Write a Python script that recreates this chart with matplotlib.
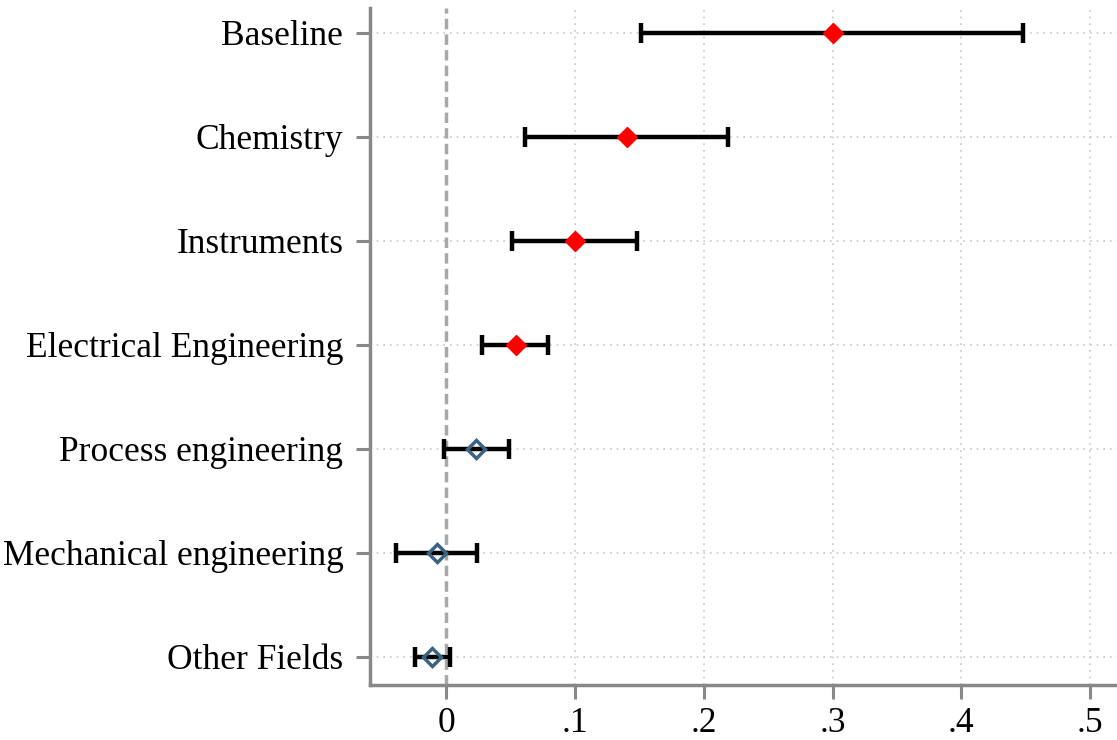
import matplotlib.pyplot as plt
import numpy as np

labels = ["Baseline", "Chemistry", "Instruments", "Electrical Engineering",
          "Process engineering", "Mechanical engineering", "Other Fields"]
coef = [0.300, 0.140, 0.100, 0.054, 0.023, -0.007, -0.011]
ci_low = [0.151, 0.061, 0.051, 0.028, -0.002, -0.039, -0.024]
ci_high = [0.448, 0.219, 0.148, 0.079, 0.049, 0.024, 0.003]
significant = [True, True, True, True, False, False, False]
xticks = [0, 0.1, 0.2, 0.3, 0.4, 0.5]
xticklabels = ["0", ".1", ".2", ".3", ".4", ".5"]

plt.rcParams['font.family'] = ['Liberation Serif', 'DejaVu Serif']

fig = plt.figure(figsize=(11.17, 7.4), dpi=100)
ax = fig.add_axes([0.331, 0.0743, 0.669, 0.915])

ypos = np.arange(len(labels))[::-1] + 1

# grid
for xt in xticks[1:]:
    ax.axvline(xt, color='#c8c8c8', lw=1.2, ls=(0, (1, 3)), zorder=0)
for y in ypos:
    ax.axhline(y, color='#c8c8c8', lw=1.2, ls=(0, (1, 3)), zorder=0)
ax.axvline(0, color='#a8a8a8', lw=2.5, ls=(0, (3, 1.5)), zorder=1)

ax.errorbar(coef, ypos,
            xerr=[np.array(coef) - np.array(ci_low), np.array(ci_high) - np.array(coef)],
            fmt='none', ecolor='black', elinewidth=3.2, capsize=7.5, capthick=3.2, zorder=2)

for c, y, s in zip(coef, ypos, significant):
    if s:
        ax.plot(c, y, marker='D', ms=10.5, color='#ff0000', mec='#ff0000', zorder=3)
    else:
        ax.plot(c, y, marker='D', ms=9, mfc='none', mec='#3a6481', mew=2.5, zorder=3)

ax.set_xlim(-0.0595, 0.521)
ax.set_ylim(0.73, 7.24)
ax.set_yticks(ypos)
ax.set_yticklabels(labels)
ax.set_xticks(xticks)
ax.set_xticklabels(xticklabels)

for side in ['top', 'right']:
    ax.spines[side].set_visible(False)
for side in ['left', 'bottom']:
    ax.spines[side].set_color('#888888')
    ax.spines[side].set_linewidth(2.5)
ax.tick_params(axis='both', colors='#888888', width=2.2, length=10, labelsize=25.5,
               labelcolor='black')
ax.tick_params(axis='y', pad=9)
ax.tick_params(axis='x', pad=6)

fig.savefig('out.png', dpi=100)
